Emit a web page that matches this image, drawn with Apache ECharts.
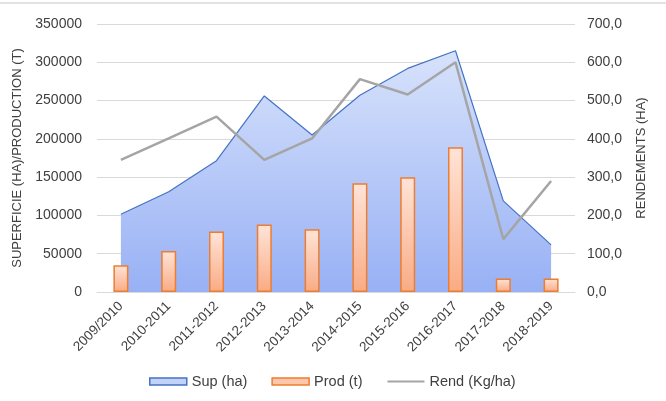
<!DOCTYPE html>
<html>
<head>
<meta charset="utf-8">
<script src="https://cdn.jsdelivr.net/npm/echarts@6/dist/echarts.min.js"></script>
<style>html,body{margin:0;padding:0;background:#fff}#c{width:666px;height:401px}</style>
</head>
<body>
<div id="c"></div>
<script>
const categories = ['2009/2010','2010-2011','2011-2012','2012-2013','2013-2014','2014-2015','2015-2016','2016-2017','2017-2018','2018-2019'];
const supHa = [101500, 131000, 171500, 256000, 205000, 257000, 292000, 315000, 119000, 61500];
const prodT = [35000, 53500, 79000, 88000, 82000, 142000, 150000, 189000, 17500, 17500];
const rendKgHa = [345, 401, 458, 345, 401, 556, 516, 600, 138, 290];
const leftTicks = { min: 0, max: 350000, interval: 50000 };
const rightTicks = { min: 0, max: 700, interval: 100 };

const font = 'Liberation Sans, Arial, sans-serif';
const txt = '#404040';
const chart = echarts.init(document.getElementById('c'), null, { renderer: 'canvas' });
chart.setOption({
  animation: false,
  backgroundColor: '#fff',
  textStyle: { fontFamily: font },
  graphic: [{ type: 'line', shape: { x1: 0, y1: 3, x2: 666, y2: 3 }, style: { stroke: '#d9d9d9', lineWidth: 1.5 } }],
  grid: { left: 97, right: 91, top: 24, bottom: 109 },
  legend: {
    bottom: 7, left: 144, itemGap: 24, itemWidth: 37, itemHeight: 7,
    textStyle: { fontFamily: font, fontSize: 14.5, color: txt },
    data: [
      { name: 'Sup (ha)', icon: 'rect', itemStyle: { color: '#c3d2f9', borderColor: '#4472c4', borderWidth: 1.5 } },
      { name: 'Prod (t)', icon: 'rect', itemStyle: { color: '#fcc7ab', borderColor: '#ed7d31', borderWidth: 1.5 } },
      { name: 'Rend (Kg/ha)', itemStyle: { opacity: 0 } }
    ]
  },
  xAxis: {
    type: 'category', data: categories, boundaryGap: true,
    axisLine: { lineStyle: { color: '#d9d9d9' } }, axisTick: { show: false },
    axisLabel: { rotate: 45, color: txt, fontSize: 13.5, fontFamily: font, margin: 12, interval: 0 }
  },
  yAxis: [
    {
      type: 'value', min: leftTicks.min, max: leftTicks.max, interval: leftTicks.interval,
      name: 'SUPERFICIE (HA)/PRODUCTION (T)', nameLocation: 'middle', nameRotate: 90, nameGap: 71,
      nameTextStyle: { color: txt, fontSize: 13, fontFamily: font },
      axisLabel: { color: txt, fontSize: 14, fontFamily: font, margin: 15, formatter: v => String(v) },
      splitLine: { lineStyle: { color: '#d9d9d9' } }, axisLine: { show: false }, axisTick: { show: false }
    },
    {
      type: 'value', min: rightTicks.min, max: rightTicks.max, interval: rightTicks.interval,
      name: 'RENDEMENTS (HA)', nameLocation: 'middle', nameRotate: 90, nameGap: 60,
      nameTextStyle: { color: txt, fontSize: 13, fontFamily: font },
      axisLabel: { color: txt, fontSize: 14, fontFamily: font, margin: 12, formatter: v => v.toFixed(1).replace('.', ',') },
      splitLine: { show: false }, axisLine: { show: false }, axisTick: { show: false }
    }
  ],
  series: [
    {
      name: 'Sup (ha)', type: 'line', data: supHa, yAxisIndex: 0, z: 1,
      symbol: 'none', lineStyle: { color: '#4472c4', width: 1.2 },
      itemStyle: { color: '#c3d2f9' },
      areaStyle: { opacity: 1, color: new echarts.graphic.LinearGradient(0, 0, 0, 1, [
        { offset: 0, color: '#d7e2fb' }, { offset: 1, color: '#98b1f5' }]) }
    },
    {
      name: 'Prod (t)', type: 'bar', data: prodT, yAxisIndex: 0, z: 2, barWidth: 15,
      itemStyle: {
        color: new echarts.graphic.LinearGradient(0, 0, 0, 1, [
          { offset: 0, color: '#ffe4d8' }, { offset: 1, color: '#f9ab84' }]),
        borderColor: '#ed7d31', borderWidth: 1.5
      }
    },
    {
      name: 'Rend (Kg/ha)', type: 'line', data: rendKgHa, yAxisIndex: 1, z: 3,
      symbol: 'none', lineStyle: { color: '#a5a5a5', width: 2.5 }, itemStyle: { color: '#a5a5a5' }
    }
  ]
});
</script>
</body>
</html>
